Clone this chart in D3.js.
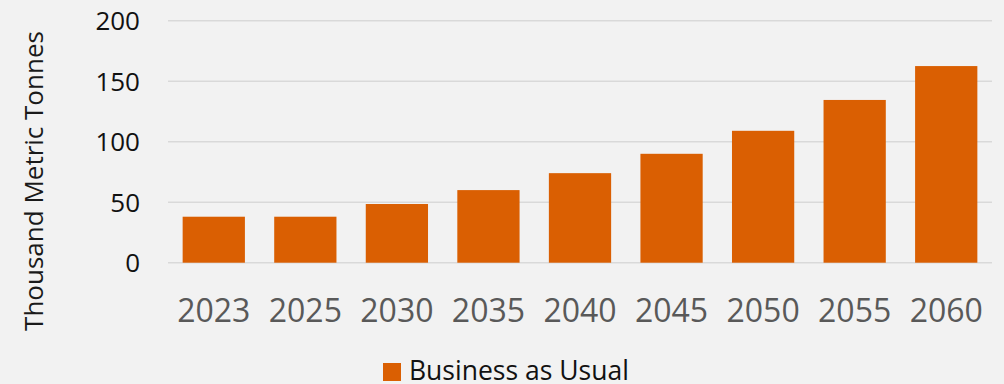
<!DOCTYPE html>
<html>
<head>
<meta charset="utf-8">
<script src="https://cdn.jsdelivr.net/npm/d3@7"></script>
<style>
  body { margin: 0; background: #f2f2f2; }
  svg { display: block; font-family: "Open Sans", sans-serif; }
</style>
</head>
<body>
<div id="chart-area"></div>
<script>
// data
const years = ["2023", "2025", "2030", "2035", "2040", "2045", "2050", "2055", "2060"];
const bau = [38, 38, 48.5, 60, 74, 90, 109, 134.5, 162.5];
const yTicks = [0, 50, 100, 150, 200];
const seriesName = "Business as Usual";

const width = 1004, height = 384;
const margin = { top: 20.7, right: 12, bottom: 121.3, left: 168 };

const svg = d3.select("#chart-area").append("svg")
  .attr("width", width)
  .attr("height", height);

svg.append("rect")
  .attr("width", width)
  .attr("height", height)
  .attr("fill", "#f2f2f2");

const x = d3.scaleBand()
  .domain(years)
  .range([margin.left, width - margin.right])
  .paddingInner(0.32)
  .paddingOuter(0.16);

const y = d3.scaleLinear()
  .domain([0, 200])
  .range([height - margin.bottom, margin.top]);

// gridlines
svg.append("g")
  .selectAll("line")
  .data(yTicks)
  .enter()
  .append("line")
  .attr("x1", margin.left)
  .attr("x2", width - margin.right)
  .attr("y1", d => y(d))
  .attr("y2", d => y(d))
  .attr("stroke", "#d9d9d9")
  .attr("stroke-width", 1.5);

// y tick labels
svg.append("g")
  .selectAll("text")
  .data(yTicks)
  .enter()
  .append("text")
  .attr("x", 140)
  .attr("y", d => y(d) + 9.3)
  .attr("text-anchor", "end")
  .attr("font-size", 26)
  .attr("fill", "#111")
  .text(d => d);

// bars
svg.append("g")
  .selectAll("rect")
  .data(years)
  .enter()
  .append("rect")
  .attr("x", d => x(d))
  .attr("y", (d, i) => y(bau[i]))
  .attr("width", x.bandwidth())
  .attr("height", (d, i) => y(0) - y(bau[i]))
  .attr("fill", "#da5f02");

// x axis labels
svg.append("g")
  .selectAll("text")
  .data(years)
  .enter()
  .append("text")
  .attr("x", d => x(d) + x.bandwidth() / 2)
  .attr("y", 322)
  .attr("text-anchor", "middle")
  .attr("font-size", 32)
  .attr("fill", "#595959")
  .text(d => d);

// y axis title
svg.append("text")
  .attr("transform", "translate(43,181) rotate(-90)")
  .attr("text-anchor", "middle")
  .attr("font-size", 26)
  .attr("fill", "#1a1a1a")
  .text("Thousand Metric Tonnes");

// legend
const legend = svg.append("g")
  .attr("transform", "translate(383,363)");

legend.append("rect")
  .attr("width", 18)
  .attr("height", 18)
  .attr("fill", "#da5f02");

legend.append("text")
  .attr("x", 26)
  .attr("y", 17)
  .attr("font-size", 26.5)
  .attr("fill", "#111")
  .text(seriesName);
</script>
</body>
</html>
